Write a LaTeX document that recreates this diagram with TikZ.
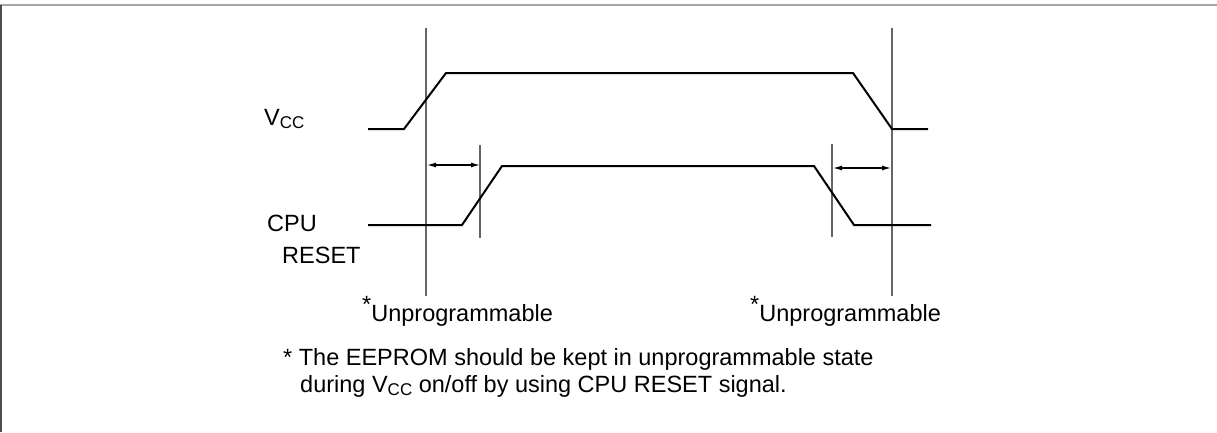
\documentclass[tikz,border=0pt]{standalone}
\usepackage{fontspec}
\setmainfont{Liberation Sans}
\usetikzlibrary{arrows.meta}
\newcommand{\subcc}{\raisebox{-3.5pt}{\fontsize{17}{17}\selectfont CC}}
\begin{document}
\begin{tikzpicture}[x=1pt,y=-1pt,
  sig/.style={line width=2pt, line join=miter, line cap=butt},
  guide/.style={line width=1.3pt, draw=black!60},
  dimarrow/.style={line width=1.2pt, {Latex[length=9pt,width=5pt]}-{Latex[length=9pt,width=5pt]}},
  lbl/.style={anchor=base west, inner sep=0pt, font=\fontsize{23.5}{28}\selectfont}]
\useasboundingbox (0,0) rectangle (1217,432);
% frame
\draw[line width=2pt, draw=black!35] (0,5) -- (1217,5);
\draw[line width=1.6pt, draw=black!70] (1,5) -- (1,432);
% coordinates
\coordinate (v0) at (368,129);
\coordinate (v1) at (404,129);
\coordinate (v2) at (446,73);
\coordinate (v3) at (853,73);
\coordinate (v4) at (892,129);
\coordinate (v5) at (928,129);
\coordinate (r0) at (368,225);
\coordinate (r1) at (462,225);
\coordinate (r2) at (502,166);
\coordinate (r3) at (814,166);
\coordinate (r4) at (854,225);
\coordinate (r5) at (931,225);
\coordinate (gL1) at (426,28);
\coordinate (gL2) at (426,296);
\coordinate (gR1) at (892,28);
\coordinate (gR2) at (892,296);
\coordinate (sL1) at (480,145);
\coordinate (sL2) at (480,238);
\coordinate (sR1) at (832,144);
\coordinate (sR2) at (832,237);
\coordinate (aL1) at (427,165);
\coordinate (aL2) at (480,165);
\coordinate (aR1) at (833,168);
\coordinate (aR2) at (891,168);
% guides
\draw[guide] (gL1) -- (gL2);
\draw[guide] (gR1) -- (gR2);
\draw[guide] (sL1) -- (sL2);
\draw[guide] (sR1) -- (sR2);
% signals
\draw[sig] (v0) -- (v1) -- (v2) -- (v3) -- (v4) -- (v5);
\draw[sig] (r0) -- (r1) -- (r2) -- (r3) -- (r4) -- (r5);
% arrows
\draw[dimarrow] (aL1) -- (aL2);
\draw[dimarrow] (aR1) -- (aR2);
% labels
\node[lbl] (vcc) at (264,125) {V\subcc};
\node[lbl] (cpu) at (267,231) {CPU};
\node[lbl] (reset) at (282,263) {RESET};
\node[lbl] (unL) at (362,321) {\raisebox{9pt}{*}Unprogrammable};
\node[lbl] (unR) at (750,321) {\raisebox{9pt}{*}Unprogrammable};
\node[lbl] (fn1) at (283,365) {* The EEPROM should be kept in unprogrammable state};
\node[lbl] (fn2) at (300,392) {during V\subcc{} on/off by using CPU RESET signal.};
\end{tikzpicture}
\end{document}
